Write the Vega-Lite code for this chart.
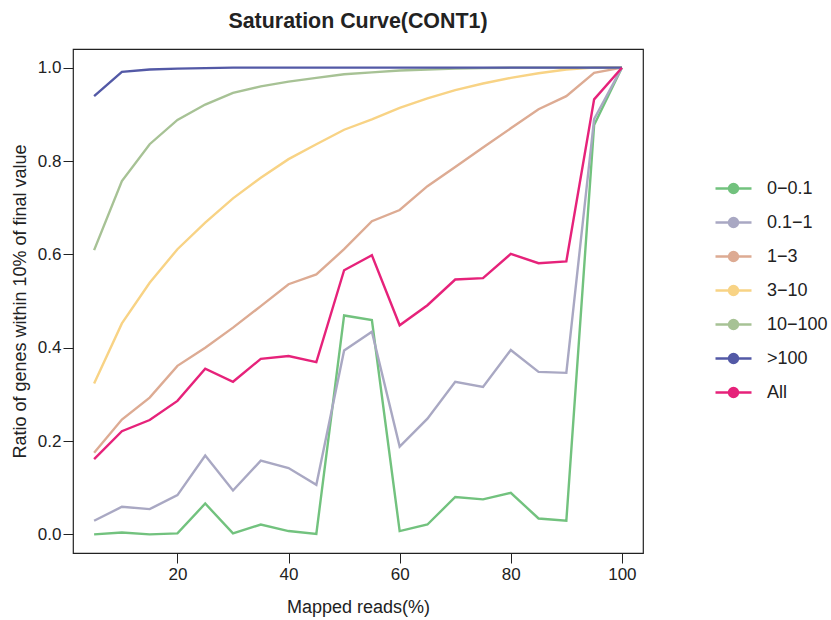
{
  "$schema": "https://vega.github.io/schema/vega-lite/v6.json",
  "autosize": "none",
  "width": 570,
  "height": 504,
  "padding": {"left": 73, "top": 49, "right": 188, "bottom": 67},
  "background": "white",
  "config": {
    "font": "Liberation Sans",
    "view": {"stroke": "#222222", "strokeWidth": 1.2},
    "axis": {"grid": false, "domain": false, "tickColor": "#222222", "tickWidth": 1, "labelColor": "#222222", "titleColor": "#222222", "labelFont": "Liberation Sans", "titleFont": "Liberation Sans", "titleFontWeight": "normal"}
  },
  "title": {"text": "Saturation Curve(CONT1)", "fontSize": 21.4, "fontWeight": "bold", "font": "Liberation Sans", "anchor": "middle", "offset": 17, "color": "#222222"},
  "data": {"values": [
    {"x":5,"g":"0−0.1","y":0.000},{"x":10,"g":"0−0.1","y":0.004},{"x":15,"g":"0−0.1","y":0.000},{"x":20,"g":"0−0.1","y":0.002},{"x":25,"g":"0−0.1","y":0.066},{"x":30,"g":"0−0.1","y":0.002},{"x":35,"g":"0−0.1","y":0.021},{"x":40,"g":"0−0.1","y":0.007},{"x":45,"g":"0−0.1","y":0.001},{"x":50,"g":"0−0.1","y":0.469},{"x":55,"g":"0−0.1","y":0.459},{"x":60,"g":"0−0.1","y":0.007},{"x":65,"g":"0−0.1","y":0.021},{"x":70,"g":"0−0.1","y":0.080},{"x":75,"g":"0−0.1","y":0.075},{"x":80,"g":"0−0.1","y":0.089},{"x":85,"g":"0−0.1","y":0.034},{"x":90,"g":"0−0.1","y":0.029},{"x":95,"g":"0−0.1","y":0.877},{"x":100,"g":"0−0.1","y":1.0},
    {"x":5,"g":"0.1−1","y":0.029},{"x":10,"g":"0.1−1","y":0.059},{"x":15,"g":"0.1−1","y":0.054},{"x":20,"g":"0.1−1","y":0.084},{"x":25,"g":"0.1−1","y":0.169},{"x":30,"g":"0.1−1","y":0.094},{"x":35,"g":"0.1−1","y":0.158},{"x":40,"g":"0.1−1","y":0.142},{"x":45,"g":"0.1−1","y":0.106},{"x":50,"g":"0.1−1","y":0.394},{"x":55,"g":"0.1−1","y":0.434},{"x":60,"g":"0.1−1","y":0.188},{"x":65,"g":"0.1−1","y":0.248},{"x":70,"g":"0.1−1","y":0.327},{"x":75,"g":"0.1−1","y":0.316},{"x":80,"g":"0.1−1","y":0.395},{"x":85,"g":"0.1−1","y":0.348},{"x":90,"g":"0.1−1","y":0.346},{"x":95,"g":"0.1−1","y":0.890},{"x":100,"g":"0.1−1","y":1.0},
    {"x":5,"g":"1−3","y":0.175},{"x":10,"g":"1−3","y":0.246},{"x":15,"g":"1−3","y":0.293},{"x":20,"g":"1−3","y":0.361},{"x":25,"g":"1−3","y":0.400},{"x":30,"g":"1−3","y":0.443},{"x":35,"g":"1−3","y":0.489},{"x":40,"g":"1−3","y":0.536},{"x":45,"g":"1−3","y":0.557},{"x":50,"g":"1−3","y":0.611},{"x":55,"g":"1−3","y":0.671},{"x":60,"g":"1−3","y":0.695},{"x":65,"g":"1−3","y":0.746},{"x":70,"g":"1−3","y":0.787},{"x":75,"g":"1−3","y":0.829},{"x":80,"g":"1−3","y":0.870},{"x":85,"g":"1−3","y":0.911},{"x":90,"g":"1−3","y":0.939},{"x":95,"g":"1−3","y":0.989},{"x":100,"g":"1−3","y":1.0},
    {"x":5,"g":"3−10","y":0.323},{"x":10,"g":"3−10","y":0.452},{"x":15,"g":"3−10","y":0.539},{"x":20,"g":"3−10","y":0.611},{"x":25,"g":"3−10","y":0.668},{"x":30,"g":"3−10","y":0.720},{"x":35,"g":"3−10","y":0.764},{"x":40,"g":"3−10","y":0.804},{"x":45,"g":"3−10","y":0.836},{"x":50,"g":"3−10","y":0.867},{"x":55,"g":"3−10","y":0.889},{"x":60,"g":"3−10","y":0.914},{"x":65,"g":"3−10","y":0.934},{"x":70,"g":"3−10","y":0.952},{"x":75,"g":"3−10","y":0.966},{"x":80,"g":"3−10","y":0.978},{"x":85,"g":"3−10","y":0.988},{"x":90,"g":"3−10","y":0.996},{"x":95,"g":"3−10","y":1.0},{"x":100,"g":"3−10","y":1.0},
    {"x":5,"g":"10−100","y":0.609},{"x":10,"g":"10−100","y":0.757},{"x":15,"g":"10−100","y":0.836},{"x":20,"g":"10−100","y":0.888},{"x":25,"g":"10−100","y":0.921},{"x":30,"g":"10−100","y":0.946},{"x":35,"g":"10−100","y":0.960},{"x":40,"g":"10−100","y":0.970},{"x":45,"g":"10−100","y":0.978},{"x":50,"g":"10−100","y":0.986},{"x":55,"g":"10−100","y":0.990},{"x":60,"g":"10−100","y":0.994},{"x":65,"g":"10−100","y":0.996},{"x":70,"g":"10−100","y":0.998},{"x":75,"g":"10−100","y":0.999},{"x":80,"g":"10−100","y":1.0},{"x":85,"g":"10−100","y":1.0},{"x":90,"g":"10−100","y":1.0},{"x":95,"g":"10−100","y":1.0},{"x":100,"g":"10−100","y":1.0},
    {"x":5,"g":">100","y":0.939},{"x":10,"g":">100","y":0.991},{"x":15,"g":">100","y":0.996},{"x":20,"g":">100","y":0.998},{"x":25,"g":">100","y":0.999},{"x":30,"g":">100","y":1.0},{"x":35,"g":">100","y":1.0},{"x":40,"g":">100","y":1.0},{"x":45,"g":">100","y":1.0},{"x":50,"g":">100","y":1.0},{"x":55,"g":">100","y":1.0},{"x":60,"g":">100","y":1.0},{"x":65,"g":">100","y":1.0},{"x":70,"g":">100","y":1.0},{"x":75,"g":">100","y":1.0},{"x":80,"g":">100","y":1.0},{"x":85,"g":">100","y":1.0},{"x":90,"g":">100","y":1.0},{"x":95,"g":">100","y":1.0},{"x":100,"g":">100","y":1.0},
    {"x":5,"g":"All","y":0.161},{"x":10,"g":"All","y":0.221},{"x":15,"g":"All","y":0.245},{"x":20,"g":"All","y":0.286},{"x":25,"g":"All","y":0.355},{"x":30,"g":"All","y":0.327},{"x":35,"g":"All","y":0.376},{"x":40,"g":"All","y":0.382},{"x":45,"g":"All","y":0.369},{"x":50,"g":"All","y":0.566},{"x":55,"g":"All","y":0.598},{"x":60,"g":"All","y":0.448},{"x":65,"g":"All","y":0.491},{"x":70,"g":"All","y":0.546},{"x":75,"g":"All","y":0.549},{"x":80,"g":"All","y":0.601},{"x":85,"g":"All","y":0.581},{"x":90,"g":"All","y":0.585},{"x":95,"g":"All","y":0.932},{"x":100,"g":"All","y":1.0}
  ]},
  "mark": {"type": "line", "strokeWidth": 2.4, "strokeCap": "butt", "strokeJoin": "miter"},
  "encoding": {
    "x": {"field": "x", "type": "quantitative", "scale": {"domain": [1.2, 103.8], "nice": false, "zero": false},
      "axis": {"values": [20, 40, 60, 80, 100], "title": "Mapped reads(%)", "tickSize": 10, "labelPadding": 3, "labelFontSize": 17, "titleFontSize": 18, "titlePadding": 16, "labelFlush": false}},
    "y": {"field": "y", "type": "quantitative", "scale": {"domain": [-0.04, 1.04], "nice": false, "zero": false},
      "axis": {"values": [0, 0.2, 0.4, 0.6, 0.8, 1.0], "format": ".1f", "title": "Ratio of genes within 10% of final value", "tickSize": 10, "labelPadding": 2, "labelFontSize": 17, "titleFontSize": 18, "titlePadding": 8, "labelFlush": false}},
    "color": {"field": "g", "type": "nominal",
      "scale": {"domain": ["0−0.1", "0.1−1", "1−3", "3−10", "10−100", ">100", "All"],
        "range": ["#72C27E", "#A9A8C3", "#DDAB93", "#F8D385", "#A7C295", "#5359A6", "#E6227A"]},
      "legend": {"title": null, "orient": "none", "legendX": 641, "legendY": 120,
        "symbolType": "M-1,0H1M-0.25,0A0.25,0.25 0 1,1 0.25,0A0.25,0.25 0 1,1 -0.25,0Z",
        "symbolSize": 1296, "symbolStrokeWidth": 2.4, "labelFontSize": 18, "labelFont": "Liberation Sans", "labelColor": "#222222", "labelOffset": 14, "rowPadding": 5, "padding": 0,
        "encode": {"symbols": {"update": {"fill": {"scale": "color", "field": "value"}, "stroke": {"scale": "color", "field": "value"}, "opacity": {"value": 1}}}}}
    }
  }
}
